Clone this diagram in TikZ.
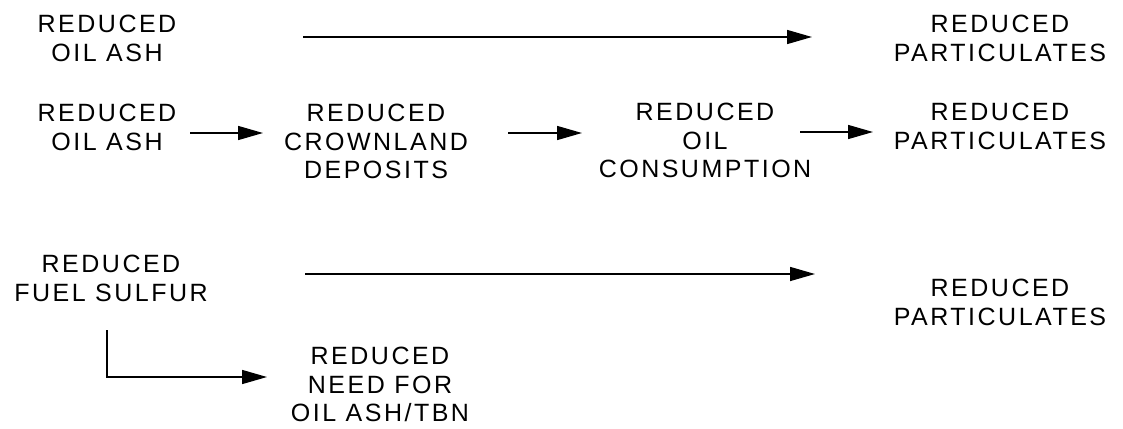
\documentclass[tikz,border=0pt]{standalone}
\usepackage{fontspec}
\setmainfont{Liberation Sans}[LetterSpace=10]
\usetikzlibrary{arrows.meta}
\begin{document}
\begin{tikzpicture}[x=1pt,y=-1pt,
  lbl/.style={font=\fontsize{25}{28.5}\selectfont, align=center, anchor=north, inner sep=0pt},
  arr/.style={line width=1.5pt, -{Triangle[length=25pt,width=14pt]}}]
\useasboundingbox (0,0) rectangle (1123,428);
% row 1
\node[lbl] (L1) at (107,15) {REDUCED\\OIL ASH};
\node[lbl] (R1) at (1000,15) {REDUCED\\PARTICULATES};
% row 2
\node[lbl] (L2) at (107,104) {REDUCED\\OIL ASH};
\node[lbl] (C2) at (376,104) {REDUCED\\CROWNLAND\\DEPOSITS};
\node[lbl] (O2) at (705,103) {REDUCED\\OIL\\CONSUMPTION};
\node[lbl] (R2) at (1000,103) {REDUCED\\PARTICULATES};
% row 3
\node[lbl] (L3) at (111,255) {REDUCED\\FUEL SULFUR};
\node[lbl] (R3) at (1000,279) {REDUCED\\PARTICULATES};
% row 4
\node[lbl] (N4) at (380,347) {REDUCED\\NEED FOR\\OIL ASH/TBN};
% connector ends
\coordinate (a1s) at (303,37);  \coordinate (a1e) at (812,37);
\coordinate (a2s) at (190,133); \coordinate (a2e) at (263,133);
\coordinate (a3s) at (508,133); \coordinate (a3e) at (582,133);
\coordinate (a4s) at (800,132); \coordinate (a4e) at (873,132);
\coordinate (a5s) at (305,274); \coordinate (a5e) at (815,274);
\coordinate (a6s) at (107,330); \coordinate (a6e) at (267,377);
\draw[arr] (a1s) -- (a1e);
\draw[arr] (a2s) -- (a2e);
\draw[arr] (a3s) -- (a3e);
\draw[arr] (a4s) -- (a4e);
\draw[arr] (a5s) -- (a5e);
\draw[arr] (a6s) |- (a6e);
\end{tikzpicture}
\end{document}
